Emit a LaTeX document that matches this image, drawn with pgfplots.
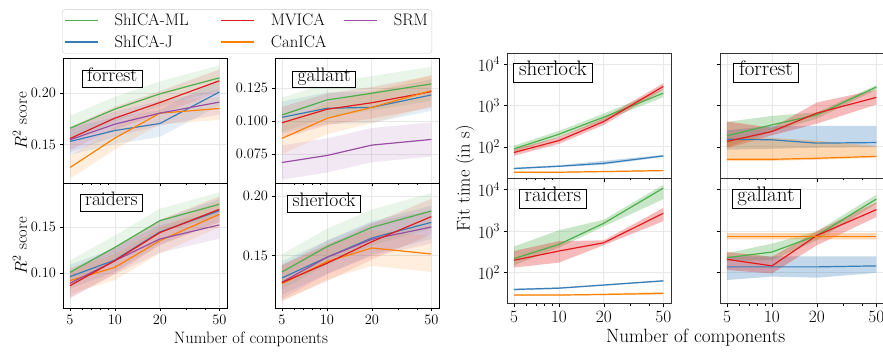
\documentclass[border=0pt]{standalone}
\usepackage{pgfplots}
\pgfplotsset{compat=1.18}
\definecolor{cG}{HTML}{4DAF4A}
\definecolor{cB}{HTML}{377EB8}
\definecolor{cR}{HTML}{E41A1C}
\definecolor{cO}{HTML}{FF7F00}
\definecolor{cP}{HTML}{984EA3}
\newcommand{\fs}[1]{\fontsize{#1}{#1}\selectfont}
\pgfplotsset{
  every axis/.append style={
    scale only axis, width=164pt, height=125pt, anchor=south west,
    xmin=4.49, xmax=56.3,
    tick align=outside, tick pos=left,
    major tick length=3.5pt, minor tick length=2pt,
    xmajorgrids, ymajorgrids,
    major grid style={black!9, line width=0.8pt},
    every tick/.append style={black, line width=0.6pt},
  },
  bandA/.style={draw=none, fill opacity=0.13, forget plot},
  bandB/.style={draw=none, fill opacity=0.3, forget plot},
  ln/.style={line width=1.2pt, forget plot},
  mylegline/.style={legend image code/.code={\draw (0pt,0pt) -- (33pt,0pt);}},
}
\tikzset{
  boxA/.style={draw=black, fill=white, line width=0.8pt, inner xsep=5pt, inner ysep=3.7pt,
    font=\fs{19.5}, text height=0.7em, text depth=0.2em},
  boxB/.style={draw=black, fill=white, line width=0.8pt, inner xsep=5.5pt, inner ysep=4.8pt,
    font=\fs{21}, text height=0.7em, text depth=0.2em},
}
\begin{document}
\begin{tikzpicture}
\useasboundingbox (0,0) rectangle (883pt,352pt);

% ---------------- R2 forrest
\begin{axis}[xmode=log, xtick={5,10,20,50}, minor xtick={6,7,8,9,30,40},
  axis line style={black, line width=0.8pt}, tick label style={font=\fs{13.3}},
  at={(63pt,169pt)}, ymin=0.113, ymax=0.234,
  ytick={0.15,0.20}, yticklabels={$0.15$,$0.20$}, xticklabels={},
  ylabel={$R^2$ score}, ylabel style={at={(axis description cs:-0.262,0.5)}, anchor=center, font=\fs{16.5}},
  legend columns=3, legend cell align=left,
  legend style={at={(axis description cs:-0.006,1.036)}, anchor=south west,
    draw=black!20, rounded corners=3pt, fill=white, font=\fs{16.7},
    inner xsep=2pt, inner ysep=2.5pt, row sep=4pt,
    /tikz/every odd column/.append style={column sep=14pt},
    /tikz/column 2/.append style={column sep=30pt},
    /tikz/column 4/.append style={column sep=15pt}}]
\addlegendimage{mylegline, draw=cG, line width=1.3pt}\addlegendentry{\fs{16.7}ShICA-ML}
\addlegendimage{mylegline, draw=cR, line width=1.3pt}\addlegendentry{\fs{16.7}MVICA}
\addlegendimage{mylegline, draw=cP, line width=1.3pt}\addlegendentry{\fs{16.7}SRM}
\addlegendimage{mylegline, draw=cB, line width=1.3pt}\addlegendentry{\fs{16.7}ShICA-J}
\addlegendimage{mylegline, draw=cO, line width=1.3pt}\addlegendentry{\fs{16.7}CanICA}
\addplot[bandA, fill=cG] coordinates {(5,0.178)(10,0.1965)(20,0.2113)(50,0.2268)(50,0.2028)(20,0.1873)(10,0.1725)(5,0.154)};
\addplot[bandA, fill=cB] coordinates {(5,0.1662)(10,0.1768)(20,0.1836)(50,0.214)(50,0.188)(20,0.1576)(10,0.1508)(5,0.1402)};
\addplot[bandA, fill=cR] coordinates {(5,0.167)(10,0.1868)(20,0.2019)(50,0.2229)(50,0.2009)(20,0.1799)(10,0.1648)(5,0.145)};
\addplot[bandA, fill=cO] coordinates {(5,0.139)(10,0.1675)(20,0.1916)(50,0.1961)(50,0.1741)(20,0.1696)(10,0.1455)(5,0.117)};
\addplot[bandA, fill=cP] coordinates {(5,0.1668)(10,0.182)(20,0.1926)(50,0.2033)(50,0.1793)(20,0.1686)(10,0.158)(5,0.1428)};
\addplot[ln, cG] coordinates {(5,0.166)(10,0.1845)(20,0.1993)(50,0.2148)};
\addplot[ln, cB] coordinates {(5,0.1532)(10,0.1638)(20,0.1706)(50,0.201)};
\addplot[ln, cR] coordinates {(5,0.156)(10,0.1758)(20,0.1909)(50,0.2119)};
\addplot[ln, cO] coordinates {(5,0.128)(10,0.1565)(20,0.1806)(50,0.1851)};
\addplot[ln, cP] coordinates {(5,0.1548)(10,0.170)(20,0.1806)(50,0.1913)};
\node[boxA] at (rel axis cs:0.3,0.832) {forrest};
\end{axis}

% ---------------- R2 gallant
\begin{axis}[xmode=log, xtick={5,10,20,50}, minor xtick={6,7,8,9,30,40},
  axis line style={black, line width=0.8pt}, tick label style={font=\fs{13.3}},
  at={(275pt,169pt)}, ymin=0.053, ymax=0.148,
  ytick={0.075,0.100,0.125}, yticklabels={$0.075$,$0.100$,$0.125$}, xticklabels={}]
\addplot[bandA, fill=cG] coordinates {(5,0.1177)(10,0.1291)(20,0.1342)(50,0.1413)(50,0.1153)(20,0.1082)(10,0.1031)(5,0.0917)};
\addplot[bandA, fill=cB] coordinates {(5,0.1149)(10,0.1218)(20,0.1225)(50,0.1319)(50,0.1079)(20,0.0985)(10,0.0978)(5,0.0909)};
\addplot[bandA, fill=cR] coordinates {(5,0.1108)(10,0.121)(20,0.126)(50,0.1344)(50,0.1104)(20,0.102)(10,0.097)(5,0.0868)};
\addplot[bandA, fill=cO] coordinates {(5,0.0989)(10,0.1141)(20,0.1225)(50,0.1352)(50,0.1112)(20,0.0985)(10,0.0901)(5,0.0749)};
\addplot[bandA, fill=cP] coordinates {(5,0.0816)(10,0.0869)(20,0.0948)(50,0.0991)(50,0.0731)(20,0.0688)(10,0.0609)(5,0.0556)};
\addplot[ln, cG] coordinates {(5,0.1047)(10,0.1161)(20,0.1212)(50,0.1283)};
\addplot[ln, cB] coordinates {(5,0.1029)(10,0.1098)(20,0.1105)(50,0.1199)};
\addplot[ln, cR] coordinates {(5,0.0988)(10,0.109)(20,0.114)(50,0.1224)};
\addplot[ln, cO] coordinates {(5,0.0869)(10,0.1021)(20,0.1105)(50,0.1232)};
\addplot[ln, cP] coordinates {(5,0.0686)(10,0.0739)(20,0.0818)(50,0.0861)};
\node[boxA] at (rel axis cs:0.3,0.828) {gallant};
\end{axis}

% ---------------- R2 raiders
\begin{axis}[xmode=log, xtick={5,10,20,50}, xticklabels={$5$,$10$,$20$,$50$}, minor xtick={6,7,8,9,30,40},
  axis line style={black, line width=0.8pt}, tick label style={font=\fs{13.3}},
  at={(63pt,44pt)}, ymin=0.0617, ymax=0.1985,
  ytick={0.10,0.15}, yticklabels={$0.10$,$0.15$},
  ylabel={$R^2$ score}, ylabel style={at={(axis description cs:-0.262,0.5)}, anchor=center, font=\fs{16.5}},
  xlabel={Number of components}, xlabel style={at={(axis description cs:1.146,-0.25)}, anchor=center, font=\fs{16.5}}]
\addplot[bandA, fill=cG] coordinates {(5,0.1137)(10,0.1411)(20,0.1703)(50,0.1882)(50,0.1622)(20,0.1443)(10,0.1151)(5,0.0877)};
\addplot[bandA, fill=cB] coordinates {(5,0.109)(10,0.1272)(20,0.1579)(50,0.1812)(50,0.1552)(20,0.1319)(10,0.1012)(5,0.083)};
\addplot[bandA, fill=cR] coordinates {(5,0.1001)(10,0.1275)(20,0.1582)(50,0.1837)(50,0.1557)(20,0.1302)(10,0.0995)(5,0.0721)};
\addplot[bandA, fill=cO] coordinates {(5,0.1056)(10,0.1202)(20,0.1494)(50,0.1782)(50,0.1502)(20,0.1214)(10,0.0922)(5,0.0776)};
\addplot[bandA, fill=cP] coordinates {(5,0.1037)(10,0.1285)(20,0.1522)(50,0.1676)(50,0.1376)(20,0.1222)(10,0.0985)(5,0.0737)};
\addplot[ln, cG] coordinates {(5,0.1007)(10,0.1281)(20,0.1573)(50,0.1752)};
\addplot[ln, cB] coordinates {(5,0.096)(10,0.1142)(20,0.1449)(50,0.1682)};
\addplot[ln, cO] coordinates {(5,0.0916)(10,0.1062)(20,0.1354)(50,0.1642)};
\addplot[ln, cP] coordinates {(5,0.0887)(10,0.1135)(20,0.1372)(50,0.1526)};
\addplot[ln, cR] coordinates {(5,0.0861)(10,0.1135)(20,0.1442)(50,0.1697)};
\node[boxA] at (rel axis cs:0.295,0.84) {raiders};
\end{axis}

% ---------------- R2 sherlock
\begin{axis}[xmode=log, xtick={5,10,20,50}, xticklabels={$5$,$10$,$20$,$50$}, minor xtick={6,7,8,9,30,40},
  axis line style={black, line width=0.8pt}, tick label style={font=\fs{13.3}},
  at={(275pt,44pt)}, ymin=0.1061, ymax=0.2109,
  ytick={0.15,0.20}, yticklabels={$0.15$,$0.20$}]
\addplot[bandA, fill=cG] coordinates {(5,0.1513)(10,0.1725)(20,0.1887)(50,0.2024)(50,0.1724)(20,0.1587)(10,0.1425)(5,0.1213)};
\addplot[bandA, fill=cB] coordinates {(5,0.1453)(10,0.1626)(20,0.1788)(50,0.1919)(50,0.1639)(20,0.1508)(10,0.1346)(5,0.1173)};
\addplot[bandA, fill=cR] coordinates {(5,0.1424)(10,0.1586)(20,0.1767)(50,0.1977)(50,0.1677)(20,0.1467)(10,0.1286)(5,0.1124)};
\addplot[bandA, fill=cO] coordinates {(5,0.1415)(10,0.16)(20,0.1714)(50,0.1664)(50,0.1364)(20,0.1414)(10,0.13)(5,0.1115)};
\addplot[bandA, fill=cP] coordinates {(5,0.1417)(10,0.1626)(20,0.1777)(50,0.188)(50,0.16)(20,0.1497)(10,0.1346)(5,0.1137)};
\addplot[ln, cG] coordinates {(5,0.1363)(10,0.1575)(20,0.1737)(50,0.1874)};
\addplot[ln, cB] coordinates {(5,0.1313)(10,0.1486)(20,0.1648)(50,0.1779)};
\addplot[ln, cO] coordinates {(5,0.1265)(10,0.145)(20,0.1564)(50,0.1514)};
\addplot[ln, cP] coordinates {(5,0.1277)(10,0.1486)(20,0.1637)(50,0.174)};
\addplot[ln, cR] coordinates {(5,0.1274)(10,0.1436)(20,0.1617)(50,0.1827)};
\node[boxA] at (rel axis cs:0.3,0.832) {sherlock};
\end{axis}

% ---------------- Time sherlock
\begin{axis}[xmode=log, ymode=log, xtick={5,10,20,50}, xticklabels={}, minor xtick={6,7,8,9,30,40},
  ymin=17.4, ymax=18200, ytick={100,1000,10000}, yminorticks=false,
  axis line style={black!80, line width=1pt}, tick label style={font=\fs{16.5}},
  at={(507pt,173.7pt)},
  ylabel={Fit time (in s)}, ylabel style={at={(axis description cs:-0.256,0)}, anchor=center, font=\fs{18.5}}]
\addplot[bandB, fill=cG] coordinates {(5,107)(10,242)(20,640)(50,2500)(50,1580)(20,430)(10,170)(5,75)};
\addplot[bandB, fill=cB] coordinates {(5,31.5)(10,36)(20,46)(50,64)(50,57)(20,37)(10,32.5)(5,28.5)};
\addplot[bandB, fill=cR] coordinates {(5,88)(10,172)(20,490)(50,3450)(50,2400)(20,340)(10,118)(5,61)};
\addplot[bandB, fill=cO] coordinates {(5,25.2)(10,25.2)(20,26.2)(50,27.6)(50,25.8)(20,24.5)(10,23.6)(5,23.6)};
\addplot[ln, cG] coordinates {(5,89.5)(10,202)(20,522)(50,1985)};
\addplot[ln, cB] coordinates {(5,30)(10,34)(20,40)(50,60.5)};
\addplot[ln, cR] coordinates {(5,73)(10,142)(20,410)(50,2880)};
\addplot[ln, cO] coordinates {(5,24.4)(10,24.4)(20,25.3)(50,26.7)};
\node[boxB] at (rel axis cs:0.28,0.842) {sherlock};
\end{axis}

% ---------------- Time forrest
\begin{axis}[xmode=log, ymode=log, xtick={5,10,20,50}, xticklabels={}, minor xtick={6,7,8,9,30,40},
  ymin=17.4, ymax=18200, ytick={100,1000,10000}, yticklabels={}, yminorticks=false,
  axis line style={black!80, line width=1pt}, tick label style={font=\fs{16.5}},
  at={(720pt,173.7pt)}]
\addplot[bandB, fill=cG] coordinates {(5,400)(10,560)(20,680)(50,3100)(50,2400)(20,480)(10,230)(5,100)};
\addplot[bandB, fill=cB] coordinates {(5,250)(10,322)(20,322)(50,322)(50,98)(20,95)(10,90)(5,85)};
\addplot[bandB, fill=cR] coordinates {(5,410)(10,290)(20,1180)(50,2400)(50,1050)(20,363)(10,190)(5,93)};
\addplot[bandB, fill=cO] coordinates {(5,170)(10,165)(20,140)(50,105)(50,55)(20,49)(10,46)(5,46)};
\addplot[ln, cG] coordinates {(5,185)(10,340)(20,594)(50,2780)};
\addplot[ln, cB] coordinates {(5,153)(10,148)(20,123)(50,127)};
\addplot[ln, cR] coordinates {(5,135)(10,235)(20,653)(50,1563)};
\addplot[ln, cO] coordinates {(5,50)(10,50)(20,53)(50,59)};
\node[boxB] at (rel axis cs:0.28,0.842) {forrest};
\end{axis}

% ---------------- Time raiders
\begin{axis}[xmode=log, ymode=log, xtick={5,10,20,50}, xticklabels={$5$,$10$,$20$,$50$}, minor xtick={6,7,8,9,30,40},
  ymin=17.4, ymax=18200, ytick={100,1000,10000}, yminorticks=false,
  axis line style={black!80, line width=1pt}, tick label style={font=\fs{16.5}},
  at={(507pt,48pt)},
  xlabel={Number of components}, xlabel style={at={(axis description cs:1.15,-0.27)}, anchor=center, font=\fs{19.2}}]
\addplot[bandB, fill=cG] coordinates {(5,427)(10,1050)(20,1900)(50,13200)(50,5900)(20,1300)(10,400)(5,150)};
\addplot[bandB, fill=cB] coordinates {(5,41)(10,44)(20,52)(50,66)(50,60)(20,48)(10,40)(5,37)};
\addplot[bandB, fill=cR] coordinates {(5,331)(10,575)(20,600)(50,3630)(50,1740)(20,460)(10,174)(5,132)};
\addplot[bandB, fill=cO] coordinates {(5,29.5)(10,29.5)(20,31)(50,34)(50,30)(20,28.5)(10,27.7)(5,27.7)};
\addplot[ln, cG] coordinates {(5,217)(10,479)(20,1556)(50,10960)};
\addplot[ln, cB] coordinates {(5,39)(10,42)(20,50)(50,63)};
\addplot[ln, cR] coordinates {(5,198)(10,331)(20,525)(50,2704)};
\addplot[ln, cO] coordinates {(5,28.6)(10,28.6)(20,29.6)(50,31.3)};
\node[boxB] at (rel axis cs:0.28,0.842) {raiders};
\end{axis}

% ---------------- Time gallant
\begin{axis}[xmode=log, ymode=log, xtick={5,10,20,50}, xticklabels={$5$,$10$,$20$,$50$}, minor xtick={6,7,8,9,30,40},
  ymin=17.4, ymax=18200, ytick={100,1000,10000}, yticklabels={}, yminorticks=false,
  axis line style={black!80, line width=1pt}, tick label style={font=\fs{16.5}},
  at={(720pt,48pt)}]
\addplot[bandB, fill=cG] coordinates {(5,295)(10,500)(20,1000)(50,7600)(50,4570)(20,600)(10,200)(5,190)};
\addplot[bandB, fill=cB] coordinates {(5,245)(10,245)(20,245)(50,245)(50,98)(20,75)(10,80)(5,66)};
\addplot[bandB, fill=cR] coordinates {(5,316)(10,240)(20,1000)(50,5000)(50,2190)(20,457)(10,95)(5,115)};
\addplot[bandB, fill=cO] coordinates {(5,895)(10,895)(20,895)(50,895)(50,631)(20,631)(10,631)(5,631)};
\addplot[ln, cG] coordinates {(5,229)(10,313)(20,787)(50,5970)};
\addplot[ln, cB] coordinates {(5,137)(10,137)(20,137)(50,145)};
\addplot[ln, cR] coordinates {(5,209)(10,145)(20,787)(50,3311)};
\addplot[ln, cO] coordinates {(5,759)(10,759)(20,759)(50,759)};
\node[boxB] at (rel axis cs:0.28,0.842) {gallant};
\end{axis}
\end{tikzpicture}
\end{document}
